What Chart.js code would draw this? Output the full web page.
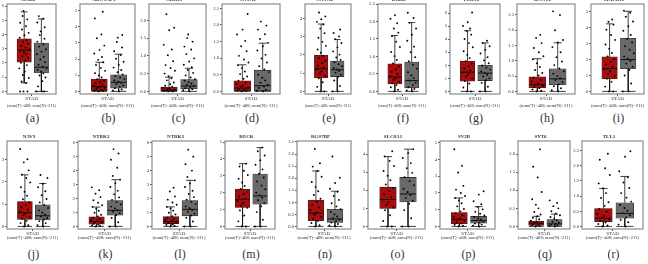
<!DOCTYPE html>
<html>
<head>
<meta charset="utf-8">
<script src="https://cdn.jsdelivr.net/npm/chart.js@4"></script>
<style>
  html, body { margin: 0; padding: 0; background: #fff; }
  #wrap { position: relative; width: 648px; height: 264px; overflow: hidden; }
  #wrap canvas { position: absolute; }
  .tag { position: absolute; font-family: 'Liberation Serif', 'DejaVu Serif', serif; font-size: 12px; color: #333; transform: translate(-50%, -50%); white-space: nowrap; }
</style>
</head>
<body>
<div id="wrap"></div>
<script>
// Expression boxplots, STAD tumour (T) vs normal (N)
const genes = ['GNB4', 'ADCYAP1', 'CDH10', 'CNTN2', 'CNTN4', 'DOK6', 'FLRT2', 'KCNT2', 'MAPK10',
               'NAV3', 'NTRK2', 'NTRK3', 'RECK', 'RGS7BP', 'SLC8A1', 'SV2B', 'SYT6', 'TLL1'];
const panelTags = ['(a)', '(b)', '(c)', '(d)', '(e)', '(f)', '(g)', '(h)', '(i)',
                   '(j)', '(k)', '(l)', '(m)', '(n)', '(o)', '(p)', '(q)', '(r)'];
const groupLabel = 'STAD';
const sampleLabel = '(num(T)=408; num(N)=211)';

// box statistics (tumour)
const tQ1  = [2.06, 0.05, 0.00, 0.02, 0.74, 0.21, 0.78, 0.11, 0.79, 0.32, 0.16, 0.20, 1.12, 0.24, 0.99, 0.16, 0.03, 0.16];
const tMed = [2.90, 0.29, 0.03, 0.10, 1.24, 0.41, 1.47, 0.22, 1.43, 0.62, 0.35, 0.35, 1.61, 0.55, 1.49, 0.41, 0.09, 0.27];
const tQ3  = [3.70, 0.76, 0.12, 0.32, 1.98, 0.79, 2.33, 0.48, 2.17, 1.12, 0.69, 0.70, 2.20, 1.09, 2.17, 0.83, 0.15, 0.59];
const tLo  = [0.60, 0, 0, 0, 0, 0, 0, 0, 0, 0, 0, 0, 0, 0, 0, 0, 0, 0];
const tHi  = [5.60, 1.80, 0.40, 0.80, 3.70, 1.60, 4.65, 1.07, 4.25, 2.32, 1.39, 1.40, 3.72, 2.30, 3.86, 1.70, 0.28, 1.25];
// box statistics (normal)
const nQ1  = [1.30, 0.20, 0.07, 0.02, 0.81, 0.10, 0.83, 0.22, 1.43, 0.29, 0.81, 0.76, 1.32, 0.17, 1.35, 0.19, 0.03, 0.27];
const nMed = [1.70, 0.56, 0.15, 0.17, 1.19, 0.31, 1.40, 0.41, 2.00, 0.48, 1.15, 1.22, 1.81, 0.31, 1.79, 0.35, 0.07, 0.43];
const nQ3  = [3.40, 1.03, 0.33, 0.64, 1.67, 0.84, 2.00, 0.74, 3.34, 0.97, 1.85, 1.85, 3.10, 0.71, 2.71, 0.60, 0.19, 0.78];
const nLo  = [0, 0, 0, 0, 0, 0, 0, 0, 0, 0, 0, 0, 0, 0, 0, 0, 0, 0];
const nHi  = [5.10, 2.30, 0.65, 1.45, 2.85, 1.97, 3.72, 1.59, 5.04, 1.93, 3.35, 3.30, 4.67, 1.46, 4.27, 1.18, 0.34, 1.65];

// sample points
const tPts = [
  [0, 0, 0, 0.58, 0.7, 0.95, 1.15, 1.4, 1.62, 1.85, 2.02, 2.18, 2.33, 2.47, 2.61, 2.74, 2.86, 2.95, 3.08, 3.21, 3.35, 3.49, 3.62, 3.78, 3.95, 4.12, 4.36, 4.58, 4.83, 5.07, 5.31, 5.66],
  [0, 0.02, 0.05, 0.09, 0.14, 0.19, 0.24, 0.29, 0.35, 0.42, 0.5, 0.58, 0.67, 0.75, 0.86, 0.98, 1.12, 1.27, 1.45, 1.63, 1.8, 1.95, 2.12, 2.34, 2.55, 2.83, 3.28, 3.52, 4.51, 4.92],
  [0, 0, 0.01, 0.02, 0.03, 0.04, 0.06, 0.08, 0.1, 0.13, 0.16, 0.2, 0.25, 0.31, 0.37, 0.43, 0.5, 0.58, 0.66, 0.74, 0.85, 1.02, 1.18, 1.31, 1.72, 1.79, 2.17],
  [0, 0.01, 0.03, 0.05, 0.08, 0.11, 0.14, 0.18, 0.22, 0.27, 0.32, 0.38, 0.45, 0.52, 0.6, 0.7, 0.79, 0.87, 0.96, 1.07, 1.21, 1.36, 1.52, 1.71, 1.86, 2.33],
  [0, 0, 0.25, 0.5, 0.72, 0.85, 0.98, 1.1, 1.2, 1.3, 1.42, 1.55, 1.68, 1.82, 1.96, 2.12, 2.3, 2.5, 2.72, 2.95, 3.2, 3.45, 3.68, 3.82, 3.96, 4.12, 4.33],
  [0, 0.05, 0.12, 0.18, 0.23, 0.28, 0.33, 0.38, 0.43, 0.49, 0.56, 0.63, 0.71, 0.8, 0.9, 1.01, 1.13, 1.27, 1.42, 1.58, 1.68, 1.8, 1.95, 2.08, 2.18],
  [0, 0, 0.3, 0.6, 0.8, 0.98, 1.15, 1.3, 1.45, 1.6, 1.76, 1.94, 2.12, 2.32, 2.55, 2.8, 3.08, 3.38, 3.7, 4.02, 4.35, 4.64, 4.82, 5.02, 5.3, 6.05],
  [0, 0.02, 0.06, 0.1, 0.14, 0.18, 0.22, 0.27, 0.32, 0.38, 0.45, 0.52, 0.6, 0.7, 0.8, 0.92, 1.05, 1.15, 1.28, 1.42, 1.58, 1.75, 1.85],
  [0, 0, 0.3, 0.6, 0.8, 0.95, 1.1, 1.25, 1.4, 1.55, 1.7, 1.86, 2.02, 2.2, 2.42, 2.68, 2.95, 3.24, 3.55, 3.88, 4.2, 4.38, 4.52],
  [0, 0.05, 0.15, 0.25, 0.33, 0.41, 0.5, 0.58, 0.66, 0.75, 0.85, 0.96, 1.08, 1.22, 1.38, 1.56, 1.76, 1.98, 2.18, 2.32, 2.52, 2.88, 3.02, 3.48],
  [0, 0.03, 0.08, 0.14, 0.2, 0.26, 0.32, 0.38, 0.45, 0.53, 0.62, 0.72, 0.84, 0.98, 1.12, 1.27, 1.4, 1.52, 1.7, 1.88, 2.1, 2.35, 2.6, 2.8],
  [0, 0.04, 0.1, 0.16, 0.22, 0.28, 0.33, 0.39, 0.46, 0.54, 0.63, 0.73, 0.85, 0.98, 1.13, 1.28, 1.4, 1.55, 1.72, 1.92, 2.15, 2.5, 2.78],
  [0, 0, 0.3, 0.65, 0.95, 1.1, 1.24, 1.38, 1.52, 1.65, 1.78, 1.92, 2.06, 2.22, 2.4, 2.6, 2.82, 3.05, 3.3, 3.55, 3.72],
  [0, 0.05, 0.14, 0.23, 0.31, 0.4, 0.49, 0.58, 0.68, 0.79, 0.9, 1.02, 1.15, 1.3, 1.46, 1.64, 1.84, 2.06, 2.3, 2.48, 2.62, 3.21],
  [0, 0, 0.3, 0.62, 0.9, 1.05, 1.2, 1.34, 1.48, 1.62, 1.78, 1.95, 2.12, 2.32, 2.55, 2.8, 3.06, 3.34, 3.62, 3.86, 4.15],
  [0, 0.04, 0.1, 0.17, 0.24, 0.32, 0.4, 0.48, 0.57, 0.67, 0.78, 0.9, 1.04, 1.2, 1.38, 1.55, 1.7, 1.82, 2.0, 2.2, 2.42, 3.22, 3.62, 4.61],
  [0, 0.01, 0.03, 0.05, 0.07, 0.09, 0.11, 0.13, 0.16, 0.2, 0.24, 0.28, 0.33, 0.4, 0.5, 0.6, 0.75, 0.95, 1.35, 1.65, 2.13],
  [0, 0.03, 0.08, 0.13, 0.18, 0.23, 0.28, 0.34, 0.41, 0.49, 0.58, 0.68, 0.8, 0.94, 1.1, 1.26, 1.42, 1.7, 1.92, 2.2, 2.4]
];
const nPts = [
  [0, 0, 0, 0.35, 0.72, 0.98, 1.12, 1.27, 1.38, 1.5, 1.62, 1.74, 1.88, 2.05, 2.24, 2.43, 2.61, 2.8, 2.97, 3.15, 3.32, 3.5, 3.71, 3.96, 4.22, 4.51, 4.85, 5.12, 5.3],
  [0, 0.05, 0.12, 0.2, 0.28, 0.36, 0.45, 0.53, 0.6, 0.68, 0.77, 0.86, 0.95, 1.05, 1.18, 1.32, 1.47, 1.64, 1.83, 2.02, 2.25, 2.48, 2.71, 3.05, 3.32, 3.48],
  [0, 0.03, 0.06, 0.09, 0.12, 0.15, 0.18, 0.22, 0.26, 0.3, 0.34, 0.39, 0.45, 0.52, 0.6, 0.68, 0.75, 0.84, 0.93, 1.05, 1.18, 1.26, 1.4, 1.5, 1.6],
  [0, 0.02, 0.05, 0.1, 0.15, 0.2, 0.26, 0.33, 0.41, 0.5, 0.58, 0.66, 0.76, 0.87, 0.99, 1.1, 1.23, 1.36, 1.46, 1.58, 1.72, 1.86, 1.98, 2.1],
  [0, 0, 0.3, 0.6, 0.8, 0.92, 1.03, 1.12, 1.2, 1.29, 1.38, 1.49, 1.6, 1.72, 1.86, 2.02, 2.2, 2.42, 2.66, 2.86, 3.02, 3.21, 3.4],
  [0, 0.03, 0.07, 0.12, 0.18, 0.25, 0.31, 0.38, 0.46, 0.55, 0.65, 0.76, 0.86, 0.98, 1.12, 1.28, 1.45, 1.62, 1.8, 1.96, 2.1, 2.25],
  [0, 0, 0.35, 0.65, 0.85, 1.0, 1.14, 1.27, 1.4, 1.53, 1.67, 1.82, 1.98, 2.16, 2.38, 2.62, 2.9, 3.18, 3.46, 3.7, 3.88],
  [0, 0.04, 0.1, 0.17, 0.23, 0.3, 0.37, 0.43, 0.5, 0.58, 0.66, 0.75, 0.86, 0.98, 1.12, 1.28, 1.45, 1.6, 1.68, 2.0, 2.5, 2.62],
  [0, 0, 0.5, 1.0, 1.35, 1.55, 1.75, 1.92, 2.05, 2.2, 2.4, 2.62, 2.85, 3.08, 3.3, 3.55, 3.82, 4.1, 4.4, 4.7, 4.95, 5.08],
  [0, 0.06, 0.15, 0.24, 0.31, 0.38, 0.45, 0.53, 0.62, 0.72, 0.83, 0.95, 1.08, 1.23, 1.4, 1.58, 1.76, 1.92, 2.18, 2.31],
  [0, 0, 0.3, 0.6, 0.82, 0.95, 1.06, 1.16, 1.28, 1.42, 1.58, 1.74, 1.9, 2.08, 2.3, 2.55, 2.82, 3.1, 3.34, 3.62, 4.2, 4.78, 5.22, 5.54],
  [0, 0, 0.35, 0.62, 0.78, 0.92, 1.05, 1.18, 1.3, 1.44, 1.6, 1.76, 1.92, 2.1, 2.32, 2.56, 2.82, 3.08, 3.3, 3.55, 4.0, 4.45, 5.0, 5.5],
  [0, 0, 0.4, 0.85, 1.2, 1.38, 1.55, 1.7, 1.84, 2.0, 2.2, 2.42, 2.66, 2.9, 3.12, 3.38, 3.65, 3.92, 4.2, 4.45, 4.67],
  [0, 0.04, 0.1, 0.16, 0.22, 0.28, 0.34, 0.41, 0.5, 0.6, 0.71, 0.83, 0.96, 1.1, 1.26, 1.44, 1.56, 1.8, 2.02, 2.9],
  [0, 0, 0.45, 0.9, 1.25, 1.42, 1.58, 1.74, 1.9, 2.08, 2.28, 2.5, 2.72, 2.96, 3.22, 3.5, 3.78, 4.05, 4.27],
  [0, 0.05, 0.11, 0.17, 0.23, 0.29, 0.35, 0.41, 0.48, 0.56, 0.65, 0.76, 0.88, 1.02, 1.17, 1.32, 1.5, 1.9, 2.1],
  [0, 0.01, 0.03, 0.05, 0.07, 0.1, 0.13, 0.17, 0.21, 0.26, 0.31, 0.36, 0.42, 0.5, 0.56, 0.65, 0.72],
  [0, 0.06, 0.14, 0.22, 0.3, 0.37, 0.44, 0.52, 0.61, 0.71, 0.82, 0.95, 1.1, 1.27, 1.45, 1.62, 1.82, 2.3, 2.48]
];

// y axis: upper limit and tick step per panel
const yTop  = [6.15, 5.4, 2.46, 2.63, 4.8, 2.5, 6.7, 2.86, 5.5, 3.84, 6.12, 6.12, 5.06, 3.54, 4.72, 5.1, 2.36, 2.82];
const yStep = [1, 1, 0.5, 0.5, 1, 0.5, 1, 0.5, 1, 1, 1, 1, 1, 0.5, 1, 1, 0.5, 0.5];

// frame edges on the page
const frameL = [7, 80, 149, 222, 305, 378, 450, 517, 591, 7, 78, 152, 225, 297, 368, 440, 518, 582];
const frameR = [58, 137, 208, 282, 353, 428, 502, 577, 646, 60, 133, 208, 277, 353, 427, 497, 572, 645];
const rowTop = [4, 141];
const rowBottom = [94, 229];
const tagY = [118, 254];

const X_MIN = 0, X_MAX = 2.85, BOX_HALF = 0.4, CAP_HALF = 0.2;
const RED = '#a80c0c', GREY = '#6a6a6a';
// fixed horizontal spread of the dots around each box centre
const JIT = [-0.04, 0.19, -0.24, 0.1, -0.15, 0.27, -0.08, 0.03, -0.29, 0.16, -0.19, 0.06, 0.24, -0.11, 0.12,
             -0.02, -0.22, 0.3, 0.08, -0.17, 0.21, -0.06, 0.14, -0.26, 0.01, 0.26, -0.13, 0.11, -0.23, 0.18, -0.09];

Chart.defaults.font.family = "'Liberation Serif', 'DejaVu Serif', serif";
Chart.defaults.font.size = 5;
Chart.defaults.color = '#333';

const framePlugin = {
    id: 'frame',
    beforeDatasetsDraw(chart) {
        const a = chart.chartArea, ctx = chart.ctx;
        ctx.save();
        ctx.strokeStyle = '#8c8c8c';
        ctx.lineWidth = 1.2;
        ctx.strokeRect(a.left, a.top, a.right - a.left, a.bottom - a.top);
        ctx.restore();
    }
};

const wrap = document.getElementById('wrap');

genes.forEach((gene, i) => {
    const row = i < 9 ? 0 : 1;
    const L = frameL[i], R = frameR[i];
    const top = rowTop[row], bottom = rowBottom[row];
    const axisW = 9, titleH = 7, xH = row === 0 ? 15 : 12, padR = 2;

    const cv = document.createElement('canvas');
    cv.width = axisW + (R - L) + padR;
    cv.height = titleH + (bottom - top) + xH;
    cv.style.left = (L - axisW) + 'px';
    cv.style.top = (top - titleH) + 'px';
    wrap.appendChild(cv);

    const tag = document.createElement('div');
    tag.className = 'tag';
    tag.textContent = panelTags[i];
    tag.style.left = ((L + R) / 2) + 'px';
    tag.style.top = tagY[row] + 'px';
    wrap.appendChild(tag);

    const boxPx = (2 * BOX_HALF / (X_MAX - X_MIN)) * (R - L);

    const groups = [
        { x: 1, q1: tQ1[i], med: tMed[i], q3: tQ3[i], lo: tLo[i], hi: tHi[i], pts: tPts[i], shift: 0 },
        { x: 2, q1: nQ1[i], med: nMed[i], q3: nQ3[i], lo: nLo[i], hi: nHi[i], pts: nPts[i], shift: 7 }
    ];

    const points = [], whiskers = [], medians = [];
    groups.forEach(g => {
        g.pts.forEach((v, k) => points.push({ x: g.x + JIT[(k + g.shift) % JIT.length], y: v }));
        const lowCap = g.lo === 0 ? BOX_HALF : CAP_HALF;
        whiskers.push(
            { x: g.x, y: g.q3 }, { x: g.x, y: g.hi }, { x: g.x, y: null },
            { x: g.x - CAP_HALF, y: g.hi }, { x: g.x + CAP_HALF, y: g.hi }, { x: g.x, y: null },
            { x: g.x, y: g.q1 }, { x: g.x, y: g.lo }, { x: g.x, y: null },
            { x: g.x - lowCap, y: g.lo }, { x: g.x + lowCap, y: g.lo }, { x: g.x, y: null }
        );
        medians.push({ x: g.x - BOX_HALF, y: g.med }, { x: g.x + BOX_HALF, y: g.med }, { x: g.x, y: null });
    });

    const yMin = -0.03 * yTop[i];
    const step = yStep[i];

    new Chart(cv, {
        type: 'scatter',
        data: {
            datasets: [
                {
                    type: 'line',
                    data: medians,
                    borderColor: '#111',
                    borderWidth: 1,
                    pointRadius: 0,
                    spanGaps: false,
                    order: 0
                },
                {
                    type: 'scatter',
                    data: points,
                    backgroundColor: '#000',
                    borderWidth: 0,
                    pointRadius: 0.95,
                    order: 1
                },
                {
                    type: 'line',
                    data: whiskers,
                    borderColor: '#111',
                    borderWidth: 0.8,
                    pointRadius: 0,
                    spanGaps: false,
                    order: 2
                },
                {
                    type: 'bar',
                    data: groups.map(g => ({ x: g.x, y: [g.q1, g.q3] })),
                    backgroundColor: [RED, GREY],
                    borderColor: '#222',
                    borderWidth: 0.6,
                    borderSkipped: false,
                    barThickness: boxPx,
                    grouped: false,
                    order: 3
                }
            ]
        },
        options: {
            responsive: false,
            animation: false,
            events: [],
            layout: { padding: { left: 0, right: padR, top: 0, bottom: 0 } },
            plugins: {
                legend: { display: false },
                tooltip: { enabled: false },
                title: {
                    display: true,
                    text: gene,
                    font: { size: 5, lineHeight: 1 },
                    padding: { top: 0, bottom: 2 },
                    color: '#333'
                }
            },
            scales: {
                x: {
                    type: 'linear',
                    min: X_MIN,
                    max: X_MAX,
                    offset: false,
                    afterBuildTicks: s => { s.ticks = [{ value: (X_MIN + X_MAX) / 2 }]; },
                    afterFit: s => { s.height = xH; s.paddingLeft = 0; s.paddingRight = 0; },
                    ticks: { callback: () => groupLabel, padding: 0, maxRotation: 0, font: { size: 5 } },
                    grid: { display: true, drawOnChartArea: false, drawTicks: true, tickLength: 2, color: '#555', offset: false },
                    border: { display: false },
                    title: { display: true, text: sampleLabel, font: { size: 4.6 }, padding: 0 }
                },
                y: {
                    type: 'linear',
                    min: yMin,
                    max: yTop[i],
                    afterBuildTicks: s => {
                        const t = [];
                        for (let k = 0; k * step <= yTop[i] + 1e-9; k++) t.push({ value: +(k * step).toFixed(2) });
                        s.ticks = t;
                    },
                    afterFit: s => { s.width = axisW; s.paddingTop = 0; s.paddingBottom = 0; },
                    ticks: {
                        callback: v => step < 1 ? v.toFixed(1) : String(v),
                        padding: 1,
                        font: { size: 4.6 }
                    },
                    grid: { display: true, drawOnChartArea: false, drawTicks: true, tickLength: 2, color: '#555' },
                    border: { display: false }
                }
            }
        },
        plugins: [framePlugin]
    });
});
</script>
</body>
</html>
